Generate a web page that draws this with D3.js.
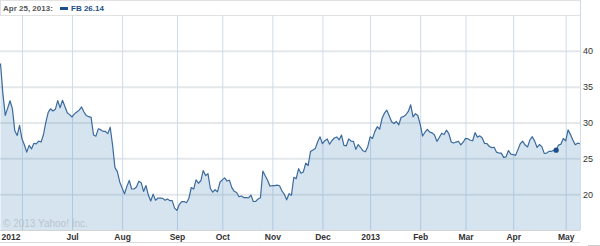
<!DOCTYPE html>
<html>
<head>
<meta charset="utf-8">
<script src="https://cdn.jsdelivr.net/npm/d3@7"></script>
<style>
  html, body { margin: 0; padding: 0; background: #fff; }
  svg { display: block; font-family: "Liberation Sans", Arial, sans-serif; }
  .x-axis text { font-size: 8.5px; font-weight: bold; fill: #333; }
  .y-axis text { font-size: 9px; fill: #333; }
</style>
</head>
<body>
<svg id="chart" width="600" height="246"></svg>
<script>
// FB daily closes, 18 May 2012 .. 9 May 2013 (one value per trading day)
const closes = [
  // May 2012
  38.23, 34.03, 31.00, 32.00, 33.03, 31.91, 28.84, 28.19, 29.60,
  // Jun
  27.72, 26.90, 25.87, 26.81, 26.31, 27.10, 27.01, 27.40, 27.27, 28.29, 30.01,
  31.41, 31.91, 31.60, 31.84, 33.05, 32.06, 33.10, 32.23, 31.36, 31.10,
  // Jul
  30.77, 31.20, 31.47, 31.73, 32.17, 31.47, 30.97, 30.81, 30.72, 28.25, 28.09,
  29.11, 29.00, 28.76, 28.75, 28.45, 29.34, 26.85, 23.71, 23.15, 21.71,
  // Aug
  20.88, 20.04, 21.09, 21.92, 20.72, 20.72, 21.01, 21.81, 21.60, 20.38, 21.20,
  19.87, 19.05, 20.01, 19.16, 19.44, 19.44, 19.41, 19.15, 19.34, 19.10, 19.09, 18.06,
  // Sep
  17.73, 18.58, 18.96, 18.98, 18.81, 19.43, 20.93, 20.71, 22.00, 21.52, 21.87,
  23.29, 22.59, 22.86, 20.79, 20.28, 20.62, 20.32, 21.66,
  // Oct
  21.99, 22.27, 21.83, 21.95, 20.91, 20.40, 20.23, 19.64, 19.75, 19.52, 19.52,
  19.48, 19.88, 18.98, 19.00, 19.32, 19.50, 23.23, 22.56, 21.94, 21.11,
  // Nov
  21.21, 21.18, 21.25, 21.17, 20.47, 19.99, 19.21, 20.07, 19.86, 22.36, 22.17,
  23.56, 22.92, 23.10, 24.32, 24.00, 25.94, 26.15, 26.36, 27.32, 28.00,
  // Dec
  27.04, 27.46, 27.71, 26.97, 27.49, 27.84, 27.98, 27.58, 28.24, 26.81, 26.75,
  27.71, 27.41, 27.36, 26.26, 26.93, 26.51, 26.05, 25.91, 26.62,
  // Jan 2013
  28.00, 27.77, 28.76, 29.42, 29.06, 30.59, 31.30, 31.72, 30.95, 30.10, 29.85,
  30.14, 29.66, 30.73, 30.82, 31.08, 31.54, 32.47, 30.79, 31.24, 30.98,
  // Feb
  29.73, 28.11, 28.64, 29.05, 28.65, 28.55, 28.26, 27.37, 27.91, 28.50, 28.32,
  28.93, 28.46, 27.28, 27.13, 27.27, 27.39, 26.87, 27.25,
  // Mar
  27.78, 27.72, 27.52, 27.45, 28.58, 27.96, 28.14, 27.83, 27.08, 27.04, 26.65,
  26.49, 26.55, 25.86, 25.74, 25.73, 25.13, 25.21, 26.09, 25.58,
  // Apr
  25.53, 25.42, 26.25, 27.07, 27.39, 26.85, 26.59, 27.57, 28.02, 27.40, 26.52,
  26.92, 26.63, 25.69, 25.73, 25.97, 25.98, 26.11, 26.14, 26.85, 26.98, 27.77,
  // May
  27.43, 28.97, 28.31, 27.57, 26.89, 27.12, 27.04
];

// month ticks: label and the trading-day index where the month starts
const monthLabels = ['2012', 'Jul', 'Aug', 'Sep', 'Oct', 'Nov', 'Dec', '2013', 'Feb', 'Mar', 'Apr', 'May'];
const monthStarts = [9, 30, 51, 74, 93, 114, 135, 155, 176, 195, 215, 237];

const priceTicks = [20, 25, 30, 35, 40];

// highlighted day shown in the header
const markerLabel = 'Apr 25, 2013:';
const markerSymbol = 'FB';
const markerIndex = 233;

const plot = { left: 0, right: 580, top: 15, bottom: 230 };

const svg = d3.select('#chart');

const x = d3.scaleLinear()
  .domain([0, closes.length - 1])
  .range([plot.left + 0.5, plot.right]);

const y = d3.scaleLinear()
  .domain([15, 45])
  .range([plot.bottom, plot.top]);

// header box
svg.append('rect')
  .attr('x', 0.5).attr('y', 0.5)
  .attr('width', plot.right).attr('height', plot.top)
  .attr('fill', '#fff').attr('stroke', '#e2e2e2');

// horizontal grid
svg.append('g')
  .attr('transform', `translate(${plot.left},0)`)
  .call(d3.axisRight(y).tickValues(priceTicks).tickSize(plot.right - plot.left).tickFormat(''))
  .call(g => g.select('.domain').remove())
  .call(g => g.selectAll('line').attr('stroke', '#e4e8eb').attr('stroke-width', 2));

// vertical grid
svg.append('g')
  .attr('transform', `translate(0,${plot.bottom})`)
  .call(d3.axisBottom(x).tickValues(monthStarts).tickSize(-(plot.bottom - plot.top)).tickFormat(''))
  .call(g => g.select('.domain').remove())
  .call(g => g.selectAll('line').attr('stroke', '#cddceb').attr('stroke-width', 1));

// area + line
const area = d3.area()
  .x((d, i) => x(i))
  .y0(y(15))
  .y1(d => y(d));

const line = d3.line()
  .x((d, i) => x(i))
  .y(d => y(d));

svg.append('path')
  .datum(closes)
  .attr('d', area)
  .attr('fill', 'rgb(70,130,180)')
  .attr('fill-opacity', 0.22);

svg.append('path')
  .datum(closes)
  .attr('d', line)
  .attr('fill', 'none')
  .attr('stroke', '#3b6a9d')
  .attr('stroke-width', 1.2)
  .attr('stroke-linejoin', 'round');

// right border of plot
svg.append('line')
  .attr('x1', plot.right + 0.5).attr('x2', plot.right + 0.5)
  .attr('y1', 0).attr('y2', plot.bottom)
  .attr('stroke', '#cddceb');

// watermark
svg.append('text')
  .attr('x', 3).attr('y', 227)
  .attr('font-size', 10)
  .attr('fill', '#b9c4ce')
  .text('\u00a9 2013 Yahoo! Inc.');

// x axis
svg.append('line')
  .attr('x1', 0).attr('x2', plot.right)
  .attr('y1', plot.bottom + 0.5).attr('y2', plot.bottom + 0.5)
  .attr('stroke', '#d4d4d4');
svg.append('line')
  .attr('x1', 0).attr('x2', plot.right)
  .attr('y1', 242.5).attr('y2', 242.5)
  .attr('stroke', '#dcdcdc');

const xAxis = svg.append('g')
  .attr('class', 'x-axis')
  .attr('transform', `translate(0,${plot.bottom})`)
  .call(d3.axisBottom(x).tickValues(monthStarts).tickSize(0).tickPadding(4)
    .tickFormat((d, i) => monthLabels[i]))
  .call(g => g.select('.domain').remove());

// first label sits left of its grid line
xAxis.select('.tick:first-of-type text')
  .attr('text-anchor', 'end')
  .attr('x', -2);

// y axis on the right
svg.append('g')
  .attr('class', 'y-axis')
  .attr('transform', `translate(${plot.right},0)`)
  .call(d3.axisRight(y).tickValues(priceTicks).tickSize(0).tickPadding(3))
  .call(g => g.select('.domain').remove());

// marker dot
svg.append('circle')
  .attr('cx', x(markerIndex))
  .attr('cy', y(closes[markerIndex]))
  .attr('r', 2.6)
  .attr('fill', '#1d4f8a');

// header text
const header = svg.append('g').attr('font-size', 8).attr('font-weight', 'bold');
header.append('text')
  .attr('x', 3).attr('y', 11)
  .attr('fill', '#555')
  .text(markerLabel);
header.append('rect')
  .attr('x', 60).attr('y', 7)
  .attr('width', 8).attr('height', 3)
  .attr('fill', '#1d4f8a');
header.append('text')
  .attr('x', 71).attr('y', 11)
  .attr('fill', '#1d4f8a')
  .text(`${markerSymbol} ${closes[markerIndex].toFixed(2)}`);

// small tick at the bottom right
svg.append('line')
  .attr('x1', 588).attr('x2', 600)
  .attr('y1', 245.5).attr('y2', 245.5)
  .attr('stroke', '#ccc');
</script>
</body>
</html>
